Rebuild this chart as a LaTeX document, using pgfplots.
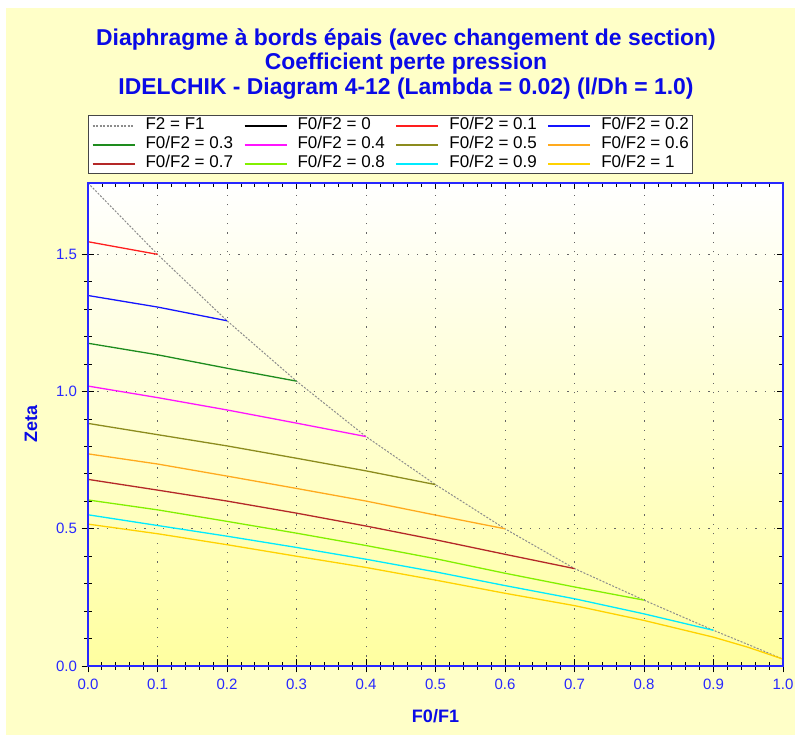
\documentclass[border=0pt]{standalone}
\usepackage{fontspec}
\setmainfont{Liberation Sans}
\usepackage{pgfplots}
\pgfplotsset{compat=1.18}
\definecolor{panel}{RGB}{255,255,200}
\definecolor{plotbot}{RGB}{255,255,160}
\definecolor{plotmid}{RGB}{255,255,225}
\definecolor{ttl}{RGB}{10,10,230}
\definecolor{tkl}{RGB}{40,40,255}
\definecolor{cgrid}{RGB}{100,100,100}
\definecolor{cdash}{RGB}{140,140,140}
\definecolor{legbox}{RGB}{70,70,70}
\definecolor{cred}{RGB}{255,30,30}
\definecolor{cblue}{RGB}{20,20,255}
\definecolor{cgreen}{RGB}{30,140,30}
\definecolor{cmag}{RGB}{255,20,255}
\definecolor{colive}{RGB}{140,140,30}
\definecolor{corange}{RGB}{255,170,30}
\definecolor{cbrown}{RGB}{180,40,40}
\definecolor{clime}{RGB}{130,240,0}
\definecolor{ccyan}{RGB}{0,235,255}
\definecolor{cgold}{RGB}{255,210,0}
\pgfplotsset{
  frameaxis/.style={
    at={(88pt,69pt)}, anchor=south west,
    scale only axis, width=695pt, height=483pt,
    xmin=0, xmax=1, ymin=0, ymax=1.76,
    xtick={0,0.1,...,1.01}, ytick={0,0.5,1,1.5},
    minor x tick num=4, minor y tick num=4,
    every tick/.style={black, line width=0.8pt},
    axis line style={tkl, line width=1.4pt},
  }
}
\begin{document}
\begin{tikzpicture}
\useasboundingbox (0pt,0pt) rectangle (795pt,735pt);
\fill[white] (0pt,0pt) rectangle (795pt,735pt);
\fill[panel] (6pt,0pt) rectangle (795pt,727pt);
\node[align=center, text=ttl, font=\fontsize{22.9}{24.2}\selectfont\bfseries] at (406pt,671pt)
  {Diaphragme à bords épais (avec changement de section)\\Coefficient perte pression\\IDELCHIK - Diagram 4-12 (Lambda = 0.02) (l/Dh = 1.0)};
\begin{axis}[
  frameaxis,
  xtick pos=bottom, ytick pos=left,
  tick align=center,
  major tick length=13pt, minor tick length=8pt,
  grid=major,
  major grid style={cgrid, line width=1pt, dash pattern=on 1.2pt off 8.2pt},
  axis background/.style={shade, top color=white, middle color=plotmid, bottom color=plotbot},
  /pgf/number format/assume math mode=true,
  /pgf/number format/.cd, fixed, fixed zerofill, precision=1, /pgfplots/.cd,
  ticklabel style={font=\fontsize{15}{17}\selectfont, text=tkl},
  xticklabel style={yshift=-3pt},
  yticklabel style={xshift=-1pt},
  xlabel={F0/F1}, ylabel={Zeta},
  label style={font=\fontsize{18}{20}\selectfont\bfseries, text=ttl},
  xlabel style={at={(axis description cs:0.5,-0.1035)}, anchor=center},
  ylabel style={at={(axis description cs:-0.082,0.5)}, anchor=center},
  legend columns=4,
  legend style={at={(0,1.1408)}, anchor=north west, fill=white, draw=legbox, line width=1.2pt,
    font=\fontsize{17}{19}\selectfont, inner xsep=3pt, inner ysep=0.5pt, row sep=0pt,
    /tikz/every even column/.append style={column sep=9.5pt},
    nodes={inner xsep=1pt, inner ysep=1.5pt, text height=12pt, text depth=4pt, anchor=west}},
  legend image code/.code={\draw[#1, line width=2pt] (0pt,0pt) -- (42pt,0pt); \path[draw=none, fill=none] (0pt,0pt) -- (52pt,0pt);},
  every axis plot/.append style={line width=1.3pt},
]
\addplot[cdash, line width=1pt, dash pattern=on 2pt off 1.5pt] coordinates {(0,1.76) (0.1,1.50) (0.2,1.258) (0.3,1.038) (0.4,0.836) (0.5,0.661) (0.6,0.50) (0.7,0.355) (0.8,0.24) (0.9,0.13) (0.95,0.078) (1.0,0.025)};
\addlegendentry{F2 = F1}
\addlegendimage{black}
\addlegendentry{F0/F2 = 0}
\addplot[cred] coordinates {(0,1.546) (0.1,1.50)};
\addlegendentry{F0/F2 = 0.1}
\addplot[cblue] coordinates {(0,1.35) (0.1,1.308) (0.2,1.258)};
\addlegendentry{F0/F2 = 0.2}
\addplot[cgreen] coordinates {(0,1.176) (0.1,1.134) (0.2,1.085) (0.3,1.038)};
\addlegendentry{F0/F2 = 0.3}
\addplot[cmag] coordinates {(0,1.02) (0.1,0.978) (0.2,0.933) (0.3,0.885) (0.4,0.836)};
\addlegendentry{F0/F2 = 0.4}
\addplot[colive] coordinates {(0,0.884) (0.1,0.843) (0.2,0.802) (0.3,0.757) (0.4,0.711) (0.5,0.661)};
\addlegendentry{F0/F2 = 0.5}
\addplot[corange] coordinates {(0,0.773) (0.1,0.736) (0.2,0.692) (0.3,0.647) (0.4,0.601) (0.5,0.550) (0.6,0.50)};
\addlegendentry{F0/F2 = 0.6}
\addplot[cbrown] coordinates {(0,0.680) (0.1,0.641) (0.2,0.601) (0.3,0.557) (0.4,0.510) (0.5,0.460) (0.6,0.407) (0.7,0.355)};
\addlegendentry{F0/F2 = 0.7}
\addplot[clime] coordinates {(0,0.605) (0.1,0.569) (0.2,0.527) (0.3,0.484) (0.4,0.439) (0.5,0.391) (0.6,0.338) (0.7,0.288) (0.8,0.24)};
\addlegendentry{F0/F2 = 0.8}
\addplot[ccyan] coordinates {(0,0.551) (0.1,0.512) (0.2,0.473) (0.3,0.432) (0.4,0.389) (0.5,0.343) (0.6,0.293) (0.7,0.245) (0.8,0.19) (0.9,0.13)};
\addlegendentry{F0/F2 = 0.9}
\addplot[cgold] coordinates {(0,0.517) (0.1,0.482) (0.2,0.442) (0.3,0.400) (0.4,0.359) (0.5,0.313) (0.6,0.265) (0.7,0.22) (0.8,0.166) (0.9,0.105) (0.95,0.068) (1.0,0.025)};
\addlegendentry{F0/F2 = 1}
\end{axis}
\begin{axis}[
  frameaxis,
  xtick pos=top, ytick pos=right,
  tick align=inside,
  major tick length=6pt, minor tick length=4pt,
  xticklabels={}, yticklabels={},
]
\end{axis}
\end{tikzpicture}
\end{document}
